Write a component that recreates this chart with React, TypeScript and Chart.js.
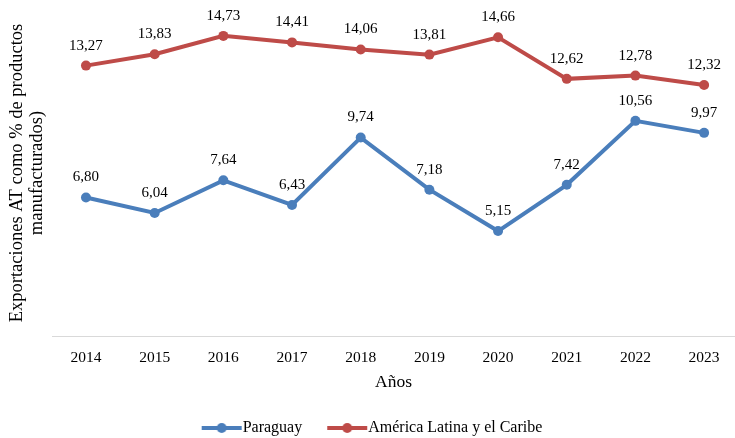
import React, { useEffect, useRef } from "react";
import { Chart, registerables } from "chart.js";

Chart.register(...registerables);

const years = [2014, 2015, 2016, 2017, 2018, 2019, 2020, 2021, 2022, 2023];
const paraguay = [6.8, 6.04, 7.64, 6.43, 9.74, 7.18, 5.15, 7.42, 10.56, 9.97];
const latam = [13.27, 13.83, 14.73, 14.41, 14.06, 13.81, 14.66, 12.62, 12.78, 12.32];
const seriesNames = ["Paraguay", "América Latina y el Caribe"];
const yTitle = ["Exportaciones AT como % de productos", "manufacturados)"];
const xTitle = "Años";

const BLUE = "#4a7ebb";
const RED = "#be4b48";
const FONT = '"Liberation Serif", "Times New Roman", serif';

const LEG_W = 42; // pointStyleWidth
const LEG_OFF = (LEG_W - 33 + 20) - LEG_W / 2; // line centre offset from icon centre

function legendIcon(color: string) {
  const half = Math.ceil(Math.abs(LEG_OFF) + 22);
  const c = document.createElement("canvas");
  c.width = half * 2;
  c.height = 12;
  const ctx = c.getContext("2d")!;
  const cx = half + LEG_OFF;
  ctx.strokeStyle = color;
  ctx.lineWidth = 4;
  ctx.beginPath();
  ctx.moveTo(cx - 20, 6);
  ctx.lineTo(cx + 20, 6);
  ctx.stroke();
  ctx.fillStyle = color;
  ctx.beginPath();
  ctx.arc(cx, 6, 5, 0, Math.PI * 2);
  ctx.fill();
  return c;
}

const fmt = (v: number) => v.toFixed(2).replace(".", ",");

const labelPlugin = {
  id: "valueLabels",
  afterDatasetsDraw(chart: any) {
    const ctx = chart.ctx;
    ctx.save();
    ctx.font = `15px ${FONT}`;
    ctx.fillStyle = "#000";
    ctx.textAlign = "center";
    ctx.textBaseline = "middle";
    chart.data.datasets.forEach((ds: any, i: number) => {
      const meta = chart.getDatasetMeta(i);
      meta.data.forEach((pt: any, j: number) => {
        ctx.fillText(fmt(ds.data[j].y), pt.x, pt.y - 20);
      });
    });
    ctx.restore();
  },
};

export default function App() {
  const ref = useRef<HTMLCanvasElement>(null);
  useEffect(() => {
    if (!ref.current) return;
    const icons = [legendIcon(BLUE), legendIcon(RED)];
    const chart = new Chart(ref.current, {
      type: "line",
      data: {
        datasets: [
          {
            label: seriesNames[0],
            data: years.map((x, i) => ({ x, y: paraguay[i] })),
            borderColor: BLUE,
            backgroundColor: BLUE,
            borderWidth: 4,
            pointRadius: 5,
            pointStyle: "circle",
            pointBackgroundColor: BLUE,
            pointBorderWidth: 0,
          },
          {
            label: seriesNames[1],
            data: years.map((x, i) => ({ x, y: latam[i] })),
            borderColor: RED,
            backgroundColor: RED,
            borderWidth: 4,
            pointRadius: 5,
            pointStyle: "circle",
            pointBackgroundColor: RED,
            pointBorderWidth: 0,
          },
        ],
      },
      options: {
        animation: false,
        responsive: true,
        maintainAspectRatio: false,
        layout: { autoPadding: false, padding: { top: 10, left: 0, right: 0, bottom: -8 } },
        scales: {
          x: {
            type: "linear",
            min: 2013.505,
            max: 2023.45,
            afterBuildTicks: (axis: any) => {
              axis.ticks = years.map((v) => ({ value: v }));
            },
            afterFit: (scale: any) => {
              scale.height = 68;
            },
            grid: { display: false },
            border: { display: true, color: "#d9d9d9", width: 1 },
            ticks: {
              font: { family: FONT, size: 15.5 },
              color: "#000",
              padding: 5,
              maxRotation: 0,
              callback: (v: any) => String(v),
            },
            title: {
              display: true,
              text: xTitle,
              font: { family: FONT, size: 17.5 },
              color: "#000",
              padding: { top: 2, bottom: 11 },
            },
          },
          y: {
            min: 0,
            max: 16,
            afterFit: (scale: any) => {
              scale.width = 52;
            },
            grid: { display: false },
            border: { display: false },
            ticks: { display: false },
            title: {
              display: true,
              text: yTitle,
              font: { family: FONT, size: 18.5, lineHeight: 20 / 18.5 },
              color: "#000",
              padding: { top: 7, bottom: 0 },
            },
          },
        },
        plugins: {
          tooltip: { enabled: false },
          legend: {
            position: "bottom",
            labels: {
              usePointStyle: true,
              pointStyleWidth: LEG_W,
              font: { family: FONT, size: 16 },
              color: "#000",
              padding: 16,
              generateLabels: (ch: any) =>
                (Chart.defaults.plugins.legend.labels.generateLabels as any)(ch).map(
                  (l: any, i: number) => ({ ...l, pointStyle: icons[i] })
                ),
            },
          },
        },
      },
      plugins: [labelPlugin],
    } as any);
    return () => chart.destroy();
  }, []);
  return (
    <div style={{ position: "absolute", left: 0, top: 0, width: 735, height: 438 }}>
      <canvas ref={ref} />
    </div>
  );
}
